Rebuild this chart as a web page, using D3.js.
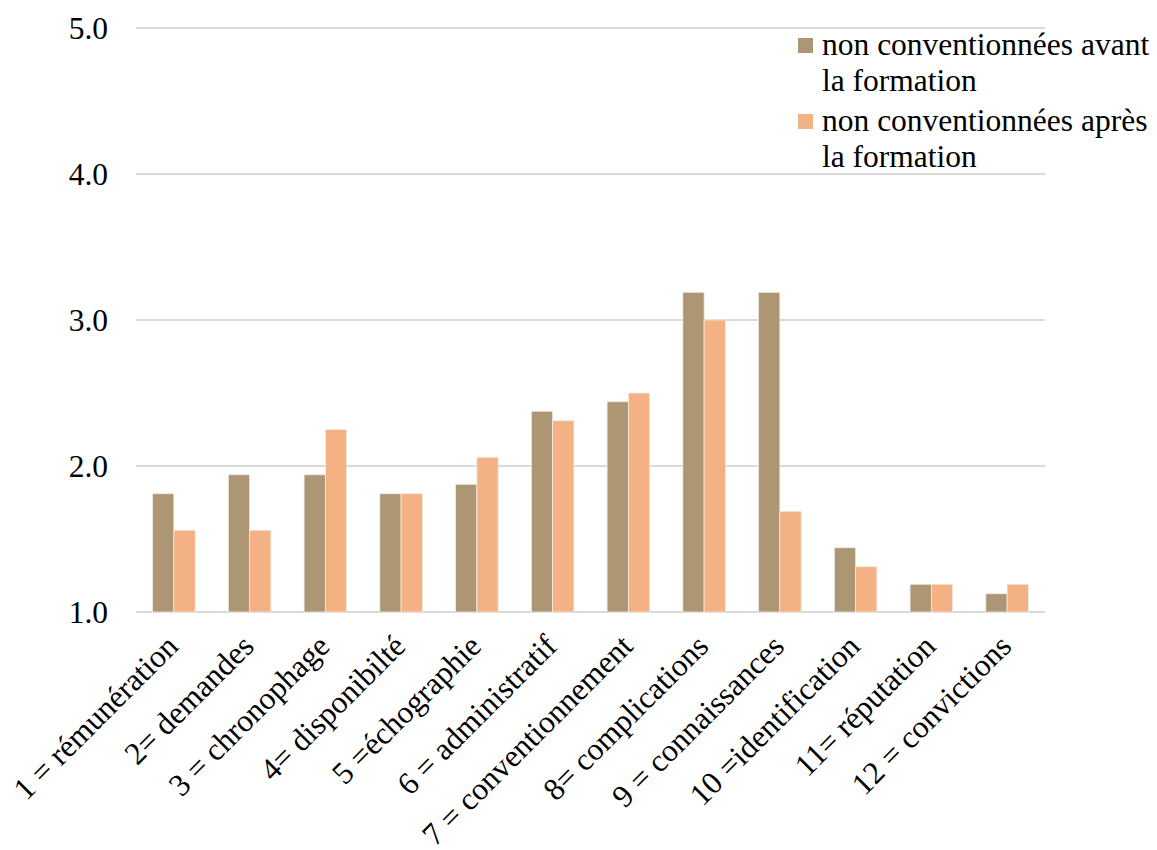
<!DOCTYPE html>
<html>
<head>
<meta charset="utf-8">
<script src="https://cdn.jsdelivr.net/npm/d3@7"></script>
<style>
  html, body { margin: 0; padding: 0; background: #fff; }
  svg { display: block; }
  text { font-family: "Liberation Serif", "Times New Roman", serif; fill: #000; }
</style>
</head>
<body>
<svg id="chart" width="1157" height="850"></svg>
<script>
// Motifs (catégories) et moyennes avant / après la formation
const categories = [
  "1 = rémunération",
  "2= demandes",
  "3 = chronophage",
  "4= disponibilté",
  "5 =échographie",
  "6 = administratif",
  "7 = conventionnement",
  "8= complications",
  "9 = connaissances",
  "10 =identification",
  "11= réputation",
  "12 = convictions"
];
const avant = [1.81, 1.94, 1.94, 1.81, 1.875, 2.375, 2.44, 3.19, 3.19, 1.44, 1.19, 1.125];
const apres = [1.56, 1.56, 2.25, 1.81, 2.06, 2.31, 2.50, 3.00, 1.69, 1.31, 1.19, 1.19];
const seriesNames = ["non conventionnées avant la formation", "non conventionnées après la formation"];
const yTicks = [1, 2, 3, 4, 5];

const colors = ["#ad9673", "#f4b183"];
const FONT = 31.5;

const svg = d3.select("#chart");
const margin = { left: 136, right: 112, top: 28, bottom: 238 };
const W = 1157, H = 850;
const plotW = W - margin.left - margin.right;
const plotH = H - margin.top - margin.bottom;

const g = svg.append("g").attr("transform", `translate(${margin.left},${margin.top})`);

const x = d3.scaleBand().domain(categories).range([0, plotW]).paddingInner(0.4375).paddingOuter(0.21875);
const xSub = d3.scaleBand().domain([0, 1]).range([0, x.bandwidth()]);
const y = d3.scaleLinear().domain([1, 5]).range([plotH, 0]);

// horizontal gridlines
g.append("g")
  .selectAll("line")
  .data(yTicks)
  .join("line")
  .attr("x1", 0).attr("x2", plotW)
  .attr("y1", d => y(d)).attr("y2", d => y(d))
  .attr("stroke", "#d9d9d9")
  .attr("stroke-width", 2);

// y axis labels
const yAxis = d3.axisLeft(y).tickValues(yTicks).tickFormat(d3.format(".1f")).tickSize(0).tickPadding(28);
const ya = g.append("g").call(yAxis);
ya.attr("font-family", null);
ya.select(".domain").remove();
ya.selectAll("text").attr("font-size", FONT).attr("fill", "#000").attr("dy", "0.34em");

// bars
const data = categories.map((c, i) => ({ c, vals: [avant[i], apres[i]] }));
const groups = g.append("g").selectAll("g")
  .data(data).join("g")
  .attr("transform", d => `translate(${x(d.c)},0)`);
groups.selectAll("rect")
  .data(d => d.vals.map((v, k) => ({ v, k })))
  .join("rect")
  .attr("x", d => xSub(d.k))
  .attr("width", xSub.bandwidth())
  .attr("y", d => y(d.v))
  .attr("height", d => y(1) - y(d.v))
  .attr("fill", d => colors[d.k])
  .attr("stroke", "#f2ece4")
  .attr("stroke-width", 0.8);

// x axis labels, rotated
const xa = g.append("g").attr("transform", `translate(0,${plotH})`);
xa.selectAll("text")
  .data(categories)
  .join("text")
  .attr("transform", d => `translate(${x(d) + x.bandwidth() / 2 + 6},${36}) rotate(-45)`)
  .attr("text-anchor", "end")
  .attr("font-size", FONT)
  .text(d => d);

// legend
const legend = svg.append("g").attr("transform", "translate(798,0)");
const legendLines = [["non conventionnées avant", "la formation"], ["non conventionnées après", "la formation"]];
legendLines.forEach((lines, i) => {
  const top = 38 + i * 76;
  legend.append("rect")
    .attr("x", 0).attr("y", top)
    .attr("width", 15).attr("height", 15)
    .attr("fill", colors[i]);
  lines.forEach((t, j) => {
    legend.append("text")
      .attr("x", 24)
      .attr("y", top + 17 + j * 36)
      .attr("font-size", FONT)
      .text(t);
  });
});
</script>
</body>
</html>
